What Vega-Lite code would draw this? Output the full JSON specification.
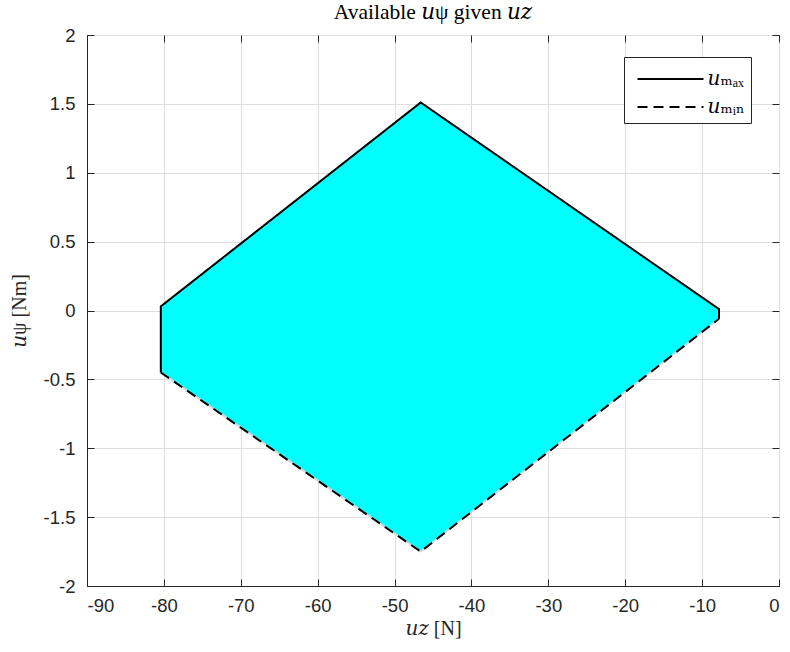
{
  "$schema": "https://vega.github.io/schema/vega-lite/v6.json",
  "width": 692,
  "height": 551,
  "autosize": {"type": "none"},
  "padding": {"left": 87, "top": 35, "right": 11, "bottom": 66},
  "background": "white",
  "title": {
    "text": "Available 𝑢ψ given 𝑢𝑧",
    "font": "Liberation Serif, DejaVu Serif",
    "fontSize": 21.5,
    "fontWeight": "normal",
    "color": "#000000",
    "offset": 3
  },
  "config": {
    "view": {"stroke": "#262626", "strokeWidth": 1},
    "axis": {
      "domainColor": "#262626",
      "tickColor": "#262626",
      "tickSize": -7,
      "labelFont": "Liberation Sans",
      "labelFontSize": 18.5,
      "labelColor": "#262626",
      "labelExpr": "datum.value + ''",
      "gridColor": "#dedede",
      "gridWidth": 1,
      "titleFont": "Liberation Serif, DejaVu Serif",
      "titleFontSize": 20,
      "titleFontWeight": "normal",
      "titleColor": "#262626"
    },
    "legend": {
      "orient": "none",
      "legendX": 537,
      "legendY": 22,
      "strokeColor": "#262626",
      "fillColor": "white",
      "padding": 6,
      "symbolType": "M-2.2,0H2.2",
      "symbolSize": 900,
      "symbolOffset": 24.5,
      "symbolStrokeWidth": 2,
      "symbolStrokeColor": "black",
      "symbolFillColor": "transparent",
      "labelFont": "Liberation Serif, DejaVu Serif",
      "labelFontSize": 20,
      "labelColor": "#000000",
      "labelOffset": 21,
      "labelExpr": "datum.label + '\u2002\u2009'",
      "rowPadding": 2
    }
  },
  "datasets": {
    "region": [
      {"u": -80.4, "hi": 0.03, "lo": -0.45},
      {"u": -46.6, "hi": 1.51, "lo": -1.75},
      {"u": -7.8, "hi": 0.01, "lo": -0.06}
    ],
    "bounds": [
      {"bound": "𝑢ₘₐₓ", "seq": 1, "u": -80.4, "v": -0.45},
      {"bound": "𝑢ₘₐₓ", "seq": 2, "u": -80.4, "v": 0.03},
      {"bound": "𝑢ₘₐₓ", "seq": 3, "u": -46.6, "v": 1.51},
      {"bound": "𝑢ₘₐₓ", "seq": 4, "u": -7.8, "v": 0.01},
      {"bound": "𝑢ₘₐₓ", "seq": 5, "u": -7.8, "v": -0.06},
      {"bound": "𝑢ₘᵢₙ", "seq": 1, "u": -80.4, "v": -0.45},
      {"bound": "𝑢ₘᵢₙ", "seq": 2, "u": -46.6, "v": -1.75},
      {"bound": "𝑢ₘᵢₙ", "seq": 3, "u": -7.8, "v": -0.06}
    ]
  },
  "layer": [
    {
      "data": {"name": "region"},
      "mark": {"type": "area", "color": "#00FFFF", "opacity": 1},
      "encoding": {
        "x": {
          "field": "u", "type": "quantitative",
          "scale": {"domain": [-90, 0], "nice": false, "zero": false},
          "axis": {"orient": "bottom", "values": [-90, -80, -70, -60, -50, -40, -30, -20, -10, 0], "labelPadding": 17, "title": "𝑢𝑧 [N]", "titlePadding": 4}
        },
        "y": {
          "field": "hi", "type": "quantitative",
          "scale": {"domain": [-2, 2], "nice": false, "zero": false},
          "axis": {"orient": "left", "values": [-2, -1.5, -1, -0.5, 0, 0.5, 1, 1.5, 2], "labelPadding": 19, "title": "𝑢ψ [Nm]", "titlePadding": 14}
        },
        "y2": {"field": "lo"}
      }
    },
    {
      "data": {"name": "bounds"},
      "transform": [{"filter": "datum.bound == '𝑢ₘᵢₙ'"}],
      "mark": {"type": "line", "color": "#d9d9d9", "strokeWidth": 2},
      "encoding": {
        "x": {"field": "u", "type": "quantitative", "axis": null},
        "y": {"field": "v", "type": "quantitative", "axis": null},
        "order": {"field": "seq"}
      }
    },
    {
      "data": {"name": "bounds"},
      "mark": {"type": "line", "color": "black", "strokeWidth": 2},
      "encoding": {
        "x": {"field": "u", "type": "quantitative", "axis": null},
        "y": {"field": "v", "type": "quantitative", "axis": null},
        "order": {"field": "seq"},
        "strokeDash": {
          "field": "bound", "type": "nominal",
          "scale": {"domain": ["𝑢ₘₐₓ", "𝑢ₘᵢₙ"], "range": [[1, 0], [10, 6]]},
          "legend": {"title": null}
        }
      }
    },
    {
      "data": {"name": "region"},
      "mark": {"type": "point", "opacity": 0},
      "encoding": {
        "x": {
          "field": "u", "type": "quantitative",
          "axis": {"orient": "top", "values": [-90, -80, -70, -60, -50, -40, -30, -20, -10, 0], "labels": false, "grid": false, "domain": false, "title": null}
        },
        "y": {
          "field": "hi", "type": "quantitative",
          "axis": {"orient": "right", "values": [-2, -1.5, -1, -0.5, 0, 0.5, 1, 1.5, 2], "labels": false, "grid": false, "domain": false, "title": null}
        }
      }
    }
  ],
  "resolve": {"axis": {"x": "independent", "y": "independent"}}
}
